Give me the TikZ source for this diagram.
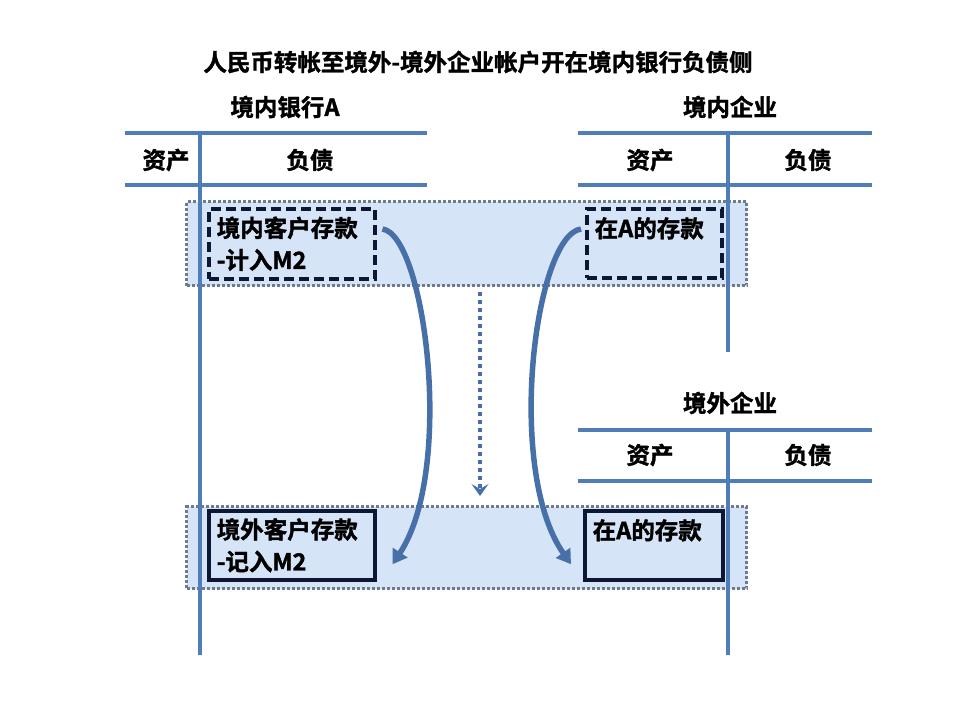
\documentclass[tikz,border=0pt]{standalone}
\usepackage{fontspec}
\setmainfont[FakeBold=1.5]{Noto Sans CJK SC Bold}
\usepackage{tikz}
\usetikzlibrary{arrows.meta,calc,positioning}

\definecolor{acctblue}{HTML}{4F7DB8}
\definecolor{bandfill}{HTML}{D6E4F8}
\definecolor{banddot}{HTML}{6C7C8E}
\definecolor{boxline}{HTML}{0D1733}
\definecolor{flowblue}{HTML}{4870A8}

\tikzset{
  acct/.style={line width=4.5pt, draw=acctblue},
  lbl/.style={font=\fontsize{23.5}{28}\selectfont, text=black, inner sep=0pt},
  band/.style={draw=banddot, fill=bandfill, line width=3pt,
    dash pattern=on 3pt off 2pt, inner sep=0pt},
  entry/.style={draw=boxline, line width=3.5pt, align=left, anchor=north west,
    font=\fontsize{23.5}{32}\selectfont, text=black, inner xsep=8pt, inner ysep=5pt},
  flow/.style={draw=flowblue, line width=5.5pt, -{Triangle[width=17pt,length=14pt]}}
}

\begin{document}
\begin{tikzpicture}[x=1pt,y=-1pt]
\useasboundingbox (0,0) rectangle (960,720);

% Title
\node[lbl] (title) at (478,62)
  {人民币转帐至境外-境外企业帐户开在境内银行负债侧};

% Bands
\node[band, minimum width=560pt, minimum height=84pt, anchor=north west] (band1) at (185,200) {};
\node[band, minimum width=560pt, minimum height=82pt, anchor=north west] (band2) at (185,505) {};

% Bank A account
\node[lbl] (bankA) at (285,107) {境内银行A};
\draw[acct] (125,133) -- (427,133);
\draw[acct] (125,185) -- (427,185);
\draw[acct] (200,133) -- (200,655);
\node[lbl] (bankAasset) at (166,160) {资产};
\node[lbl] (bankAdebt) at (310,160) {负债};

% Domestic company account
\node[lbl] (domco) at (730,107) {境内企业};
\draw[acct] (578,133) -- (872,133);
\draw[acct] (578,185) -- (872,185);
\draw[acct] (728,133) -- (728,352);
\node[lbl] (domasset) at (650,160) {资产};
\node[lbl] (domdebt) at (808,160) {负债};

% Foreign company account
\node[lbl] (forco) at (730,403) {境外企业};
\draw[acct] (578,430) -- (872,430);
\draw[acct] (578,481) -- (872,481);
\draw[acct] (728,430) -- (728,655);
\node[lbl] (forasset) at (650,455) {资产};
\node[lbl] (fordebt) at (808,455) {负债};

% Entries
\node[entry, dash pattern=on 10pt off 5pt, text width=150pt, minimum height=70pt]
  (b1) at (207,207) {境内客户存款\\-计入M2};
\node[entry, dash pattern=on 10pt off 5pt, text width=119pt, minimum height=69pt]
  (b2) at (585,207) {在A的存款\\\mbox{}};
\node[entry, text width=150pt, minimum height=69pt]
  (b3) at (207,509) {境外客户存款\\-记入M2};
\node[entry, text width=122pt, minimum height=69pt]
  (b4) at (583,509) {在A的存款\\\mbox{}};

% Flows
\coordinate (s1) at ($(b1.north east)+(6,22)$);
\coordinate (e1) at ($(b3.east)+(16,19)$);
\coordinate (s2) at ($(b2.north west)+(-4,22)$);
\coordinate (e2) at ($(b4.west)+(-12,19)$);
\draw[flow] (s1) .. controls (425,235) and (455,470) .. (e1);
\draw[flow] (s2) .. controls (535,235) and (505,470) .. (e2);

\coordinate (d1) at (480,292);
\coordinate (d2) at (480,496);
\draw[draw=flowblue, line width=4pt, dash pattern=on 4pt off 4pt,
  -{Stealth[length=12pt,width=17pt,inset=5pt]}] (d1) -- (d2);

\end{tikzpicture}
\end{document}
